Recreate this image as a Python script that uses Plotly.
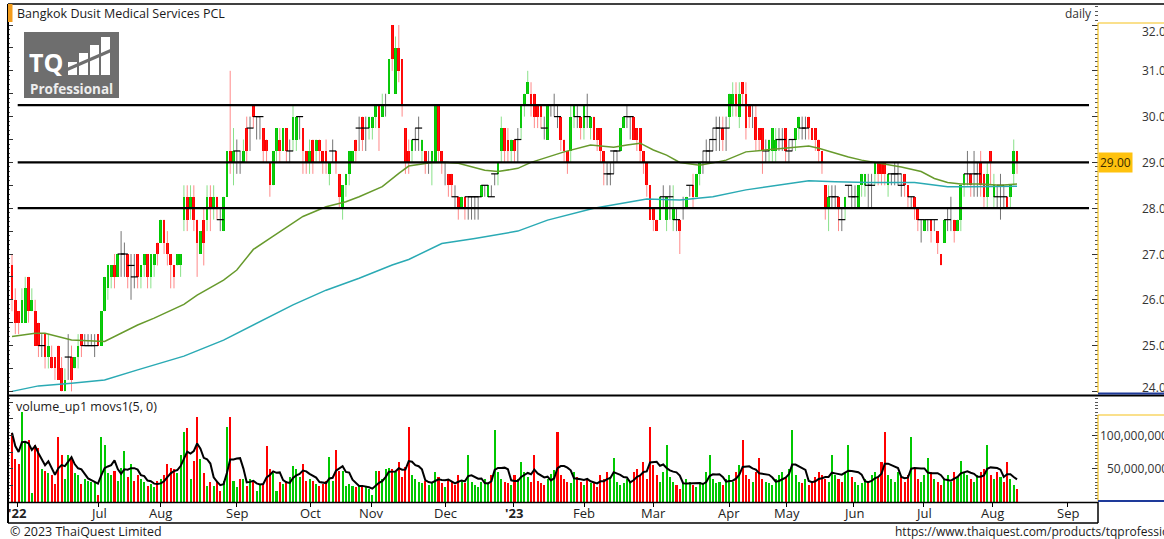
import plotly.graph_objects as go
import pandas as pd

# ---------------- data ----------------
opens = [
    26.75, 26.0, 25.75, 25.5, 25.5, 26.5, 25.75, 25.75, 25.5, 25.0,
    25.25, 24.75, 24.75, 24.75, 25.0, 24.5, 24.0, 24.75, 24.75, 24.5,
    24.75, 25.25, 25.0, 25.0, 25.0, 25.0, 25.25, 25.0, 25.75, 26.25,
    26.5, 26.75, 26.5, 27.0, 27.0, 27.0, 26.75, 26.5, 27.0, 26.5,
    26.75, 27.0, 26.5, 26.75, 27.25, 27.25, 27.75, 27.25, 27.0, 26.75,
    26.75, 26.75, 27.75, 28.25, 28.0, 28.25, 27.75, 27.0, 27.75, 27.75,
    28.25, 28.0, 28.25, 27.75, 27.5, 28.25, 29.25, 29.0, 29.25, 29.0,
    29.0, 29.75, 29.75, 30.25, 30.0, 30.0, 29.75, 29.5, 29.0, 28.5,
    29.25, 29.5, 29.25, 29.75, 29.25, 29.5, 29.5, 30.0, 29.75, 29.25,
    29.0, 29.5, 29.25, 29.5, 29.25, 29.25, 28.75, 29.25, 29.25, 28.75,
    28.0, 28.5, 28.75, 29.0, 29.5, 29.75, 30.0, 29.75, 29.75, 29.75,
    30.0, 30.25, 30.0, 30.25, 30.5, 32.0, 30.5, 31.5, 31.25, 29.75,
    29.25, 29.25, 29.5, 29.75, 29.25, 29.25, 29.0, 29.0, 29.0, 30.25,
    29.25, 29.0, 28.75, 28.75, 28.25, 28.25, 28.0, 28.25, 28.25, 28.25,
    28.25, 28.25, 28.25, 28.5, 28.25, 28.25, 28.75, 28.75, 29.25, 29.75,
    29.5, 29.25, 29.5, 29.5, 29.75, 30.25, 30.5, 30.5, 30.5, 30.25,
    30.25, 29.75, 29.5, 30.25, 30.25, 30.0, 30.0, 29.5, 29.25, 29.25,
    30.0, 30.0, 30.0, 29.75, 30.0, 29.75, 30.0, 29.75, 29.75, 29.25,
    28.75, 28.75, 29.25, 29.25, 29.25, 29.75, 30.0, 30.0, 30.0, 29.75,
    29.75, 29.25, 29.0, 28.5, 28.0, 27.75, 27.75, 28.25, 27.75, 28.25,
    27.75, 27.75, 27.75, 28.0, 28.0, 28.5, 28.5, 28.25, 28.75, 29.0,
    29.25, 29.25, 29.5, 29.75, 29.75, 29.75, 29.75, 30.0, 30.25, 30.5,
    30.0, 30.75, 30.5, 30.25, 30.25, 30.0, 29.75, 29.75, 29.25, 29.25, 29.25,
    29.25, 29.5, 29.5, 29.75, 29.25, 29.5, 29.5, 29.75, 29.75, 29.75,
    30.0, 29.75, 29.75, 29.5, 29.25, 28.5, 28.0, 28.25, 28.25, 28.25,
    27.75, 28.0, 28.5, 28.25, 28.25, 28.0, 28.5, 28.5, 28.5, 28.5,
    28.75, 29.0, 29.0, 29.0, 28.5, 28.75, 28.75, 28.75, 28.5, 28.75,
    28.5, 28.25, 28.25, 28.0, 27.75, 27.5, 27.75, 27.75, 27.75, 27.5,
    27.0, 27.25, 27.75, 28.0, 27.75, 27.5, 27.75, 28.5, 28.75, 28.75,
    28.75, 28.75, 29.0, 28.75, 28.25, 29.25, 28.25, 28.25, 28.5, 28.25,
    28.25, 28.25, 28.75, 29.25,
]
closes = [
    26.0, 25.5, 25.5, 26.0, 26.25, 25.75, 26.0, 25.0, 25.0, 25.0,
    24.75, 25.0, 24.5, 24.5, 24.25, 24.0, 24.25, 24.75, 24.25, 24.75,
    25.0, 25.0, 25.0, 25.0, 25.0, 25.0, 25.0, 25.75, 26.5, 26.75,
    26.75, 26.5, 27.0, 27.0, 27.0, 26.5, 26.75, 26.5, 26.5, 26.75,
    27.0, 26.5, 27.0, 27.0, 27.0, 27.75, 27.25, 27.0, 26.75, 26.5,
    27.0, 27.0, 28.25, 27.75, 28.25, 27.75, 27.25, 27.5, 27.25, 28.25,
    28.0, 28.25, 28.0, 27.75, 28.25, 29.25, 29.0, 29.25, 29.25, 29.0,
    29.25, 29.25, 29.75, 30.0, 30.0, 30.0, 29.25, 29.25, 28.5, 29.25,
    29.75, 29.25, 29.75, 29.25, 29.25, 30.0, 30.0, 30.0, 29.25, 29.0,
    29.25, 29.0, 29.5, 29.25, 29.0, 29.0, 29.0, 29.25, 29.0, 28.25,
    28.5, 28.75, 29.25, 29.25, 29.25, 29.75, 29.5, 29.75, 30.0, 30.0,
    30.25, 29.75, 30.25, 30.25, 31.25, 31.25, 31.5, 31.0, 30.25, 29.0,
    29.0, 29.5, 29.5, 29.75, 29.5, 29.0, 29.0, 29.25, 30.25, 29.25,
    29.0, 29.0, 28.5, 28.5, 28.25, 28.0, 28.25, 28.0, 28.25, 28.25,
    28.25, 28.25, 28.5, 28.5, 28.5, 28.25, 28.75, 29.0, 29.75, 29.25,
    29.25, 29.5, 29.25, 29.5, 30.25, 30.5, 30.75, 30.25, 30.0, 30.0,
    30.0, 29.75, 30.25, 30.25, 30.25, 30.0, 29.5, 29.25, 29.0, 30.0,
    30.25, 30.0, 29.75, 30.25, 30.0, 30.0, 29.5, 29.5, 29.25, 29.0,
    28.75, 28.75, 29.25, 29.25, 29.75, 30.0, 30.0, 30.0, 29.5, 29.5,
    29.25, 29.0, 28.5, 27.75, 27.75, 27.5, 28.25, 28.25, 28.25, 28.25,
    28.0, 27.75, 27.5, 28.0, 28.25, 28.5, 28.25, 28.75, 29.0, 29.0,
    29.25, 29.25, 29.5, 29.75, 29.75, 29.5, 29.75, 30.5, 30.5, 30.25,
    30.5, 30.5, 29.75, 30.0, 30.25, 29.5, 29.5, 29.25, 29.25, 29.5, 29.75,
    29.5, 29.5, 29.5, 29.25, 29.25, 29.5, 29.75, 30.0, 29.75, 29.75,
    29.75, 29.5, 29.5, 29.25, 29.0, 28.0, 28.25, 28.25, 28.25, 28.0,
    27.75, 28.25, 28.5, 28.25, 28.25, 28.5, 28.75, 28.75, 28.5, 28.5,
    29.0, 28.75, 28.75, 28.75, 28.75, 28.75, 28.75, 28.75, 28.5, 28.5,
    28.25, 28.25, 28.0, 27.75, 27.75, 27.75, 27.75, 27.5, 27.75, 27.25,
    26.75, 27.75, 27.75, 28.0, 27.5, 27.75, 28.5, 28.75, 28.75, 28.5,
    28.75, 28.75, 28.5, 28.25, 28.75, 29.0, 28.5, 28.25, 28.5, 28.25,
    28.0, 28.5, 29.25, 29.0,
]
highs = [
    27.0, 26.25, 25.75, 26.25, 26.5, 26.5, 26.25, 26.0, 25.5, 25.25,
    25.25, 25.25, 25.0, 24.75, 25.0, 24.75, 24.5, 25.25, 25.0, 24.75,
    25.25, 25.25, 25.25, 25.25, 25.25, 25.25, 25.25, 25.75, 26.5, 26.75,
    26.75, 27.0, 27.0, 27.5, 27.25, 27.0, 27.0, 27.0, 27.0, 26.75,
    27.0, 27.0, 27.0, 27.0, 27.25, 27.75, 27.75, 27.5, 27.0, 26.75,
    27.0, 27.0, 28.5, 28.5, 28.5, 28.5, 27.75, 27.5, 28.0, 28.5,
    28.5, 28.5, 28.25, 28.0, 28.25, 29.25, 31.0, 29.75, 29.5, 29.25,
    29.5, 30.0, 30.0, 30.25, 30.0, 30.0, 29.75, 29.5, 29.0, 29.25,
    29.75, 29.75, 29.75, 29.75, 29.5, 30.25, 30.0, 30.0, 29.75, 29.25,
    29.5, 29.5, 29.5, 29.5, 29.25, 29.5, 29.0, 29.5, 29.25, 28.75,
    28.5, 28.75, 29.25, 29.25, 29.5, 30.0, 30.0, 30.0, 30.0, 30.0,
    30.25, 30.25, 30.5, 30.5, 31.25, 32.0, 31.75, 32.0, 31.25, 29.75,
    29.5, 29.5, 29.75, 30.0, 29.5, 29.25, 29.25, 29.25, 30.25, 30.25,
    29.25, 29.0, 28.75, 28.75, 28.5, 28.25, 28.25, 28.25, 28.25, 28.25,
    28.25, 28.25, 28.5, 28.5, 28.5, 28.5, 28.75, 29.0, 30.0, 29.75,
    29.75, 29.5, 29.5, 29.75, 30.25, 30.5, 31.0, 30.75, 30.5, 30.25,
    30.25, 30.0, 30.25, 30.25, 30.5, 30.25, 30.0, 29.5, 29.25, 30.25,
    30.25, 30.25, 30.0, 30.25, 30.5, 30.0, 30.0, 29.75, 29.75, 29.25,
    29.0, 29.0, 29.25, 29.25, 29.75, 30.0, 30.25, 30.0, 30.0, 29.75,
    29.75, 29.25, 29.0, 28.5, 28.0, 27.75, 28.25, 28.5, 28.25, 28.5,
    28.5, 28.0, 27.75, 28.25, 28.25, 28.5, 28.75, 28.75, 29.0, 29.25,
    29.5, 29.5, 29.75, 30.0, 30.0, 30.0, 30.0, 30.5, 30.75, 30.75,
    30.75, 30.75, 30.75, 30.25, 30.25, 30.25, 29.75, 29.75, 29.5, 29.5, 29.75,
    29.75, 29.75, 29.75, 29.75, 29.5, 29.5, 29.75, 30.0, 30.0, 30.0,
    30.0, 29.75, 29.75, 29.5, 29.25, 28.5, 28.5, 28.5, 28.5, 28.25,
    28.0, 28.25, 28.5, 28.5, 28.5, 28.5, 28.75, 28.75, 28.75, 28.75,
    29.0, 29.0, 29.0, 29.0, 28.75, 28.75, 29.0, 29.0, 28.75, 28.75,
    28.5, 28.25, 28.25, 28.0, 27.75, 27.75, 27.75, 27.75, 27.75, 27.5,
    27.0, 27.75, 28.0, 28.25, 27.75, 27.75, 28.5, 28.75, 29.25, 28.75,
    29.25, 29.0, 29.25, 28.75, 29.0, 29.25, 28.75, 28.5, 28.75, 28.5,
    28.25, 28.5, 29.5, 29.25,
]
lows = [
    25.75, 25.25, 25.25, 25.5, 25.5, 25.5, 25.75, 25.0, 24.75, 24.75,
    24.5, 24.5, 24.5, 24.25, 24.25, 24.0, 24.0, 24.25, 24.0, 24.5,
    24.5, 24.75, 25.0, 25.0, 25.0, 24.75, 25.0, 25.0, 25.75, 26.0,
    26.25, 26.25, 26.5, 26.5, 26.5, 26.25, 26.0, 26.25, 26.25, 26.25,
    26.5, 26.25, 26.25, 26.5, 26.75, 27.25, 27.0, 26.75, 26.25, 26.25,
    26.75, 26.5, 27.5, 27.5, 27.75, 27.5, 26.5, 27.0, 26.75, 27.5,
    27.5, 27.75, 27.75, 27.5, 27.5, 28.25, 28.75, 28.5, 28.75, 28.75,
    29.0, 29.0, 29.25, 29.75, 29.5, 29.5, 29.0, 29.0, 28.25, 28.5,
    29.0, 29.0, 29.25, 29.0, 29.0, 29.25, 29.25, 29.5, 28.75, 28.75,
    28.75, 28.75, 29.0, 29.0, 28.75, 28.75, 28.5, 29.0, 28.75, 28.0,
    27.75, 28.25, 28.5, 29.0, 29.0, 29.25, 29.25, 29.25, 29.5, 29.5,
    29.75, 29.25, 30.0, 30.0, 30.5, 31.0, 30.5, 30.75, 30.0, 28.75,
    28.75, 29.0, 29.25, 29.25, 29.0, 28.75, 28.75, 28.5, 29.0, 29.0,
    28.75, 28.5, 28.25, 28.25, 28.0, 27.75, 28.0, 27.75, 27.75, 27.75,
    27.75, 27.75, 28.25, 28.25, 28.25, 28.25, 28.5, 28.5, 29.0, 29.0,
    29.0, 29.0, 29.0, 29.0, 29.5, 30.0, 30.5, 30.0, 29.75, 29.75,
    29.75, 29.5, 29.5, 30.0, 30.0, 29.75, 29.25, 29.0, 28.75, 29.0,
    29.75, 29.75, 29.5, 29.5, 29.75, 29.5, 29.5, 29.25, 29.0, 28.5,
    28.5, 28.5, 28.75, 29.0, 29.25, 29.75, 29.75, 29.5, 29.5, 29.25,
    29.0, 28.75, 28.25, 27.75, 27.5, 27.5, 27.75, 28.0, 27.5, 27.75,
    27.5, 27.5, 27.0, 27.75, 28.0, 28.25, 28.0, 28.25, 28.5, 28.75,
    29.0, 29.0, 29.25, 29.25, 29.25, 29.25, 29.25, 29.75, 30.0, 30.0,
    29.75, 30.25, 29.5, 29.75, 29.75, 29.25, 29.25, 28.75, 29.0, 29.0, 29.0,
    29.0, 29.25, 29.25, 29.0, 29.0, 29.25, 29.25, 29.5, 29.5, 29.5,
    29.5, 29.5, 29.25, 29.0, 28.75, 27.75, 27.5, 28.0, 28.0, 27.5,
    27.5, 27.75, 28.25, 28.0, 28.0, 28.0, 28.25, 28.25, 28.0, 28.0,
    28.5, 28.5, 28.5, 28.5, 28.25, 28.5, 28.5, 28.5, 28.25, 28.25,
    28.0, 28.0, 27.75, 27.5, 27.25, 27.5, 27.5, 27.25, 27.5, 27.0,
    26.75, 27.25, 27.5, 27.5, 27.25, 27.5, 27.5, 28.25, 28.5, 28.25,
    28.25, 28.25, 28.25, 28.0, 28.0, 28.5, 28.0, 28.0, 27.75, 28.0,
    28.0, 28.0, 28.5, 28.75,
]
volumes_m = [
    104, 64, 57, 135, 92, 93, 14, 86, 81, 49,
    46, 43, 40, 27, 97, 70, 35, 70, 65, 43,
    40, 27, 35, 32, 30, 30, 11, 97, 86, 43,
    40, 46, 32, 51, 76, 38, 57, 32, 40, 35,
    30, 24, 27, 22, 32, 35, 40, 57, 51, 49,
    43, 70, 105, 111, 35, 62, 127, 65, 43, 24,
    30, 24, 32, 16, 32, 113, 127, 32, 22, 35,
    35, 24, 35, 30, 16, 27, 27, 84, 49, 43,
    16, 30, 27, 32, 38, 54, 49, 38, 57, 32,
    35, 32, 27, 24, 27, 32, 67, 32, 78, 46,
    46, 24, 27, 24, 22, 24, 24, 22, 19, 11,
    46, 46, 35, 49, 51, 49,
    45, 60, 38, 52, 112, 40, 35, 30, 28, 32,
    25, 30, 45, 38, 28, 22, 35, 30, 25, 40,
    32, 28, 70, 30, 25, 22, 30, 35, 28, 40,
    108, 45, 35, 30, 28, 25, 40, 35, 60, 45,
    38, 30, 70, 32, 28, 25, 35, 42, 48, 105,
    40, 35, 30, 28, 45, 38, 30, 25, 35, 28,
    30, 22, 40, 35, 45, 38, 66, 30, 25, 28,
    35, 30, 45, 50, 40, 60, 35, 112, 55, 40,
    30, 45, 85, 38, 30, 25, 20, 28, 35, 30,
    25, 22, 30, 28, 45, 70, 35, 28, 30, 25,
    35, 40, 30, 45, 55, 93, 40, 35, 30, 45,
    66, 35, 30, 28, 25, 35, 40, 45, 38, 50,
    108, 40, 30, 28, 35, 25, 30, 38, 45, 40,
    35, 30, 70, 40, 35, 30, 45, 85, 38, 30,
    25, 28, 35, 30, 40, 45, 38, 60, 105, 40,
    35, 30, 45, 38, 30, 40, 97, 50, 35, 30,
    40, 66, 45, 35, 30, 25, 35, 40, 30, 45,
    38, 62, 45, 40, 35, 30, 40, 45, 50, 85,
    40, 35, 45, 38, 30, 60, 35, 25, 20,
]
# slower moving average (olive) and long moving average (cyan), sampled at bar numbers
ma_mid_bar = [0, 7, 10, 18, 28, 33, 38, 43, 52, 56, 64, 68, 73, 78, 88, 95, 101, 105, 112, 117,
              120, 127, 131, 135, 143, 147, 153, 157, 162, 167, 175, 182, 186, 190, 194, 198, 202,
              208, 212, 216, 222, 228, 235, 241, 244, 249, 253, 257, 263, 269, 275, 279, 283, 287,
              293, 299, 304]
ma_mid_val = [25.2, 25.27, 25.27, 25.12, 25.09, 25.27, 25.45, 25.6, 25.9, 26.1, 26.43, 26.65, 27.1,
              27.34, 27.82, 28.03, 28.14, 28.25, 28.47, 28.76, 28.92, 29.0, 29.0, 28.98, 28.83, 28.8,
              28.87, 29.0, 29.12, 29.23, 29.38, 29.33, 29.38, 29.42, 29.27, 29.16, 29.0, 28.94, 28.99,
              29.05, 29.23, 29.27, 29.31, 29.36, 29.31, 29.2, 29.12, 29.05, 28.98, 28.9, 28.8, 28.65,
              28.56, 28.53, 28.53, 28.5, 28.53]
ma_long_bar = [0, 8, 18, 28, 38, 52, 64, 75, 85, 95, 105, 115, 120, 130, 140, 153, 162, 176, 182,
               192, 202, 212, 222, 230, 241, 249, 259, 273, 283, 289, 304]
ma_long_val = [24.0, 24.12, 24.18, 24.25, 24.47, 24.77, 25.12, 25.52, 25.89, 26.21, 26.47, 26.76,
               26.88, 27.23, 27.34, 27.5, 27.74, 28.0, 28.07, 28.2, 28.18, 28.25, 28.4, 28.48, 28.6,
               28.58, 28.56, 28.56, 28.47, 28.47, 28.48]
levels = [30.25, 29.0, 28.0]
last_price_label = "29.00"
month_labels = ["<b>'22</b>", "Jul", "Aug", "Sep", "Oct", "Nov", "Dec", "<b>'23</b>",
                "Feb", "Mar", "Apr", "May", "Jun", "Jul", "Aug", "Sep"]
month_pos = [1.8, 26.3, 45.0, 68.0, 90.3, 108.8, 131.1, 151.7, 173.1, 194.0, 216.9, 234.4,
             254.4, 275.8, 296.7, 319.3]
price_ticks = [24, 25, 26, 27, 28, 29, 30, 31, 32]
vol_ticks = [50, 100]
vol_tick_text = ["50,000,000", "100,000,000"]

n = len(closes)
for name, arr in [("opens", opens), ("highs", highs), ("lows", lows), ("volumes", volumes_m)]:
    if len(arr) != n:
        raise SystemExit(f"{name} has {len(arr)} values, closes has {n}")

# ---------------- geometry helpers ----------------
W, H = 1164, 539
ML, MR, MT, MB = 8, 66, 4, 37
PW, PH = W - ML - MR, H - MT - MB


def px(x):
    return (x - ML) / PW


def py(y):
    return (H - MB - y) / PH


FONT = "Open Sans"
GREEN, RED = "#00C800", "#FF0000"
GREEN_W, RED_W, GRAY_W = "rgba(40,200,40,0.55)", "rgba(255,40,40,0.55)", "rgba(70,70,70,0.75)"
YELLOW, BLUE = "#F5C21B", "#1E3A9A"

xs = list(range(n))
kinds = ["up" if c > o else ("down" if c < o else "flat") for o, c in zip(opens, closes)]

fig = go.Figure()

# candles
for kind, body_col, wick_col in [("up", GREEN, GREEN_W), ("down", RED, RED_W), ("flat", "#000000", GRAY_W)]:
    sel = [i for i in xs if kinds[i] == kind]
    wx, wy = [], []
    for i in sel:
        wx += [i, i, None]
        wy += [lows[i], highs[i], None]
    fig.add_trace(go.Scatter(x=wx, y=wy, mode="lines", line=dict(color=wick_col, width=1),
                             hoverinfo="skip", showlegend=False, yaxis="y"))
    if kind != "flat":
        fig.add_trace(go.Bar(x=sel, y=[abs(closes[i] - opens[i]) for i in sel],
                             base=[min(opens[i], closes[i]) for i in sel], width=0.82,
                             marker=dict(color=body_col, line=dict(width=0)),
                             hoverinfo="skip", showlegend=False, yaxis="y"))
    else:
        fig.add_trace(go.Scatter(x=sel, y=[closes[i] for i in sel], mode="markers",
                                 marker=dict(symbol="line-ew", size=5, color="black",
                                             line=dict(color="black", width=1.2)),
                                 hoverinfo="skip", showlegend=False, yaxis="y"))

# moving averages
fig.add_trace(go.Scatter(x=ma_long_bar, y=ma_long_val, mode="lines",
                         line=dict(color="#2AAAB4", width=1.5), hoverinfo="skip", showlegend=False, yaxis="y"))
fig.add_trace(go.Scatter(x=ma_mid_bar, y=ma_mid_val, mode="lines",
                         line=dict(color="#679A2C", width=1.5), hoverinfo="skip", showlegend=False, yaxis="y"))

# volume
vol_colors = []
for i in xs:
    if kinds[i] == "up":
        vol_colors.append(GREEN)
    elif kinds[i] == "down":
        vol_colors.append(RED)
    else:
        prev = closes[i - 1] if i > 0 else closes[i]
        vol_colors.append(GREEN if closes[i] >= prev else RED)
fig.add_trace(go.Bar(x=xs, y=volumes_m, width=0.62, marker=dict(color=vol_colors, line=dict(width=0)),
                     hoverinfo="skip", showlegend=False, yaxis="y2"))
vol_ma = pd.Series(volumes_m, dtype=float).rolling(5, min_periods=1).mean()
fig.add_trace(go.Scatter(x=xs, y=vol_ma, mode="lines", line=dict(color="black", width=2),
                         hoverinfo="skip", showlegend=False, yaxis="y2"))

# invisible traces so that the left tick axes are drawn
fig.add_trace(go.Scatter(x=[0], y=[28], mode="markers", marker=dict(opacity=0), hoverinfo="skip",
                         showlegend=False, yaxis="y3"))
fig.add_trace(go.Scatter(x=[0], y=[10], mode="markers", marker=dict(opacity=0), hoverinfo="skip",
                         showlegend=False, yaxis="y4"))

P_LO, P_HI = 23.921, 32.459
V_HI = 157.7
price_dom = [py(395), 1.0]
vol_dom = [0.0, py(397)]

fig.update_layout(
    width=W, height=H, margin=dict(l=ML, r=MR, t=MT, b=MB, autoexpand=False),
    paper_bgcolor="white", plot_bgcolor="white", barmode="overlay", bargap=0,
    hovermode=False, showlegend=False, font=dict(family=FONT, color="#222222"),
    xaxis=dict(domain=[0, 1], range=[(8 - 12) / 3.306, (1098 - 12) / 3.306], anchor="y2",
               tickmode="array", tickvals=month_pos, showticklabels=False, automargin=False,
               ticks="outside", ticklen=4, tickcolor="#000000", showgrid=False, zeroline=False,
               showline=False),
    yaxis=dict(domain=price_dom, range=[P_LO, P_HI], side="right", anchor="x", automargin=False,
               tickmode="array", tickvals=price_ticks, showticklabels=False,
               ticks="inside", ticklen=6, tickcolor="#333333",
               minor=dict(tickmode="linear", tick0=24, dtick=0.1, ticks="inside", ticklen=3,
                          tickcolor="#555555", showgrid=False),
               showgrid=False, zeroline=False, showline=False),
    yaxis3=dict(overlaying="y", range=[P_LO, P_HI], side="left", anchor="x", automargin=False,
                tickmode="linear", tick0=24, dtick=0.5, ticks="inside", ticklen=5, tickcolor="#333333",
                minor=dict(tickmode="linear", tick0=24, dtick=0.1, ticks="inside", ticklen=2,
                           tickcolor="#555555", showgrid=False),
                showticklabels=False, showgrid=False, zeroline=False, showline=False),
    yaxis2=dict(domain=vol_dom, range=[0, V_HI], side="right", anchor="x", automargin=False,
                tickmode="array", tickvals=vol_ticks, showticklabels=False,
                ticks="inside", ticklen=6, tickcolor="#333333",
                minor=dict(tickmode="linear", tick0=0, dtick=5, ticks="inside", ticklen=3,
                           tickcolor="#555555", showgrid=False),
                showgrid=False, zeroline=False, showline=False),
    yaxis4=dict(overlaying="y2", range=[0, V_HI], side="left", anchor="x", automargin=False,
                tickmode="linear", tick0=0, dtick=25, ticks="inside", ticklen=5, tickcolor="#333333",
                minor=dict(tickmode="linear", tick0=0, dtick=5, ticks="inside", ticklen=2,
                           tickcolor="#555555", showgrid=False),
                showticklabels=False, showgrid=False, zeroline=False, showline=False),
)

shapes = []


def hline(y, x0, x1, color="black", width=1.5):
    shapes.append(dict(type="line", xref="paper", yref="paper", x0=px(x0), x1=px(x1), y0=py(y), y1=py(y),
                       line=dict(color=color, width=width)))


def vline(x, y0, y1, color="black", width=1.5):
    shapes.append(dict(type="line", xref="paper", yref="paper", x0=px(x), x1=px(x), y0=py(y0), y1=py(y1),
                       line=dict(color=color, width=width)))


def rect(x0, y0, x1, y1, fill):
    shapes.append(dict(type="rect", xref="paper", yref="paper", x0=px(x0), x1=px(x1), y0=py(y0), y1=py(y1),
                       fillcolor=fill, line=dict(width=0)))


# support / resistance levels
for lv in levels:
    shapes.append(dict(type="line", xref="paper", yref="y", x0=px(17.7), x1=px(1089), y0=lv, y1=lv,
                       line=dict(color="black", width=2.2)))

# frames
hline(4, 8, 1164, width=1.5)
vline(8, 4, 523, width=2)
hline(395.5, 8, 1164, width=2)
hline(502.5, 8, 1098, width=1.5)
hline(523, 8, 1098, width=1.5)
vline(1098, 502, 523, width=1.5)
vline(1098, 23, 393, color=YELLOW, width=1.2)
hline(23, 1098, 1164, color=YELLOW, width=1.2)
hline(393.5, 1098, 1164, color=BLUE, width=2)
vline(1098, 415, 501, color=YELLOW, width=1.2)
hline(415, 1098, 1164, color=YELLOW, width=1.2)
hline(501, 1098, 1164, color=BLUE, width=2)
rect(8, 4, 12.5, 22, "#F39C1B")

# logo
rect(24, 32, 119, 98, "#6E6E6E")
rect(68, 62, 77, 75, "white")
rect(79, 53, 88, 75, "white")
rect(90, 45, 99, 75, "white")
rect(101, 37, 110, 75, "white")
shapes.append(dict(type="line", xref="paper", yref="paper", x0=px(66), y0=py(70), x1=px(112), y1=py(50),
                   line=dict(color="#6E6E6E", width=3)))

fig.update_layout(shapes=shapes)

ann = []


def text(x, y, s, size=12, color="#222222", anchor="left", bold=False):
    ann.append(dict(xref="paper", yref="paper", x=px(x), y=py(y), text=(f"<b>{s}</b>" if bold else s),
                    showarrow=False, xanchor=anchor, yanchor="middle",
                    font=dict(family=FONT, size=size, color=color)))


text(15, 13, "Bangkok Dusit Medical Services PCL", size=12.5, color="#1a1a1a")
text(1094, 13, "daily", size=12, color="#333333", anchor="right")
text(46, 62, "TQ", size=25, color="white", anchor="center", bold=True)
text(71, 89, "Professional", size=13.5, color="#EDEDED", anchor="center", bold=True)
text(14, 406, "volume_up1 movs1(5, 0)", size=12.5, color="#1a1a1a")
text(8, 531, "© 2023 ThaiQuest Limited", size=12.5, color="#1a1a1a")
text(893, 531, "https://www.thaiquest.com/products/tqprofessional", size=12, color="#1a1a1a")

# price axis labels (edge labels nudged inside the panel, as in the reference)
for v in price_ticks:
    shift = -6 if v == max(price_ticks) else (4 if v == min(price_ticks) else 0)
    ann.append(dict(xref="paper", yref="y", x=px(1140), y=v, yshift=shift, text=f"{v:.2f}",
                    showarrow=False, xanchor="left", yanchor="middle",
                    font=dict(family=FONT, size=12, color="#333333")))
# volume axis labels
for v, t in zip(vol_ticks, vol_tick_text):
    ann.append(dict(xref="paper", yref="y2", x=px(1170), y=v, text=t, showarrow=False,
                    xanchor="right", yanchor="middle", font=dict(family=FONT, size=12, color="#333333")))
# month labels
for p, t in zip(month_pos, month_labels):
    ann.append(dict(xref="x", yref="paper", x=p, y=py(513), text=t, showarrow=False,
                    xanchor="center", yanchor="middle", font=dict(family=FONT, size=13, color="#222222")))
# last price box
ann.append(dict(xref="paper", yref="y", x=px(1098), y=closes[-1], text=last_price_label, showarrow=False,
                xanchor="left", yanchor="middle", bgcolor="#FFC20E", borderpad=1,
                font=dict(family=FONT, size=12, color="#3a2a00")))
fig.update_layout(annotations=ann)

fig.write_html("out.html", config={"displayModeBar": False},
               post_script="document.body.style.margin='0';document.body.style.overflow='hidden';")
